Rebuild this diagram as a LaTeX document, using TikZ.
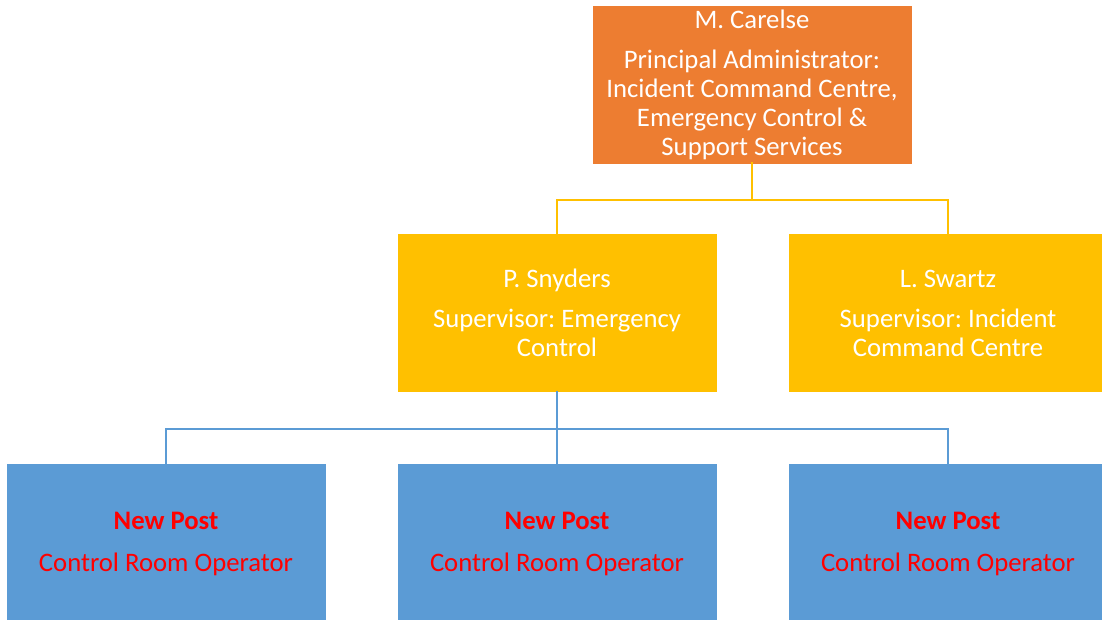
\documentclass[tikz,border=0pt]{standalone}
\usepackage{fontspec}
\setmainfont{Carlito}
\frenchspacing
\definecolor{orangeb}{HTML}{ED7D31}
\definecolor{yellowb}{HTML}{FFC000}
\definecolor{blueb}{HTML}{5B9BD5}
\definecolor{redt}{HTML}{FF0000}
\tikzset{
  box/.style={draw=white, line width=0.8pt, minimum width=320pt, minimum height=159pt, inner sep=0pt, align=center, font=\fontsize{26.7}{29}\selectfont},
  topbox/.style={box, fill=orangeb, text=white},
  midbox/.style={box, fill=yellowb, text=white},
  lowbox/.style={box, fill=blueb, text=redt, minimum height=162pt},
  yline/.style={draw=yellowb, line width=2pt},
  bline/.style={draw=blueb, line width=2pt},
}
\begin{document}
\begin{tikzpicture}[x=1pt,y=-1pt]
\useasboundingbox (0,0) rectangle (1102,619);
\node[topbox] (top) at (752,84.5) {M. Carelse\\[11pt]Principal Administrator:\\Incident Command Centre,\\Emergency Control \&\\Support Services};
\node[midbox] (p) at (557,313) {P. Snyders\\[11pt]Supervisor: Emergency\\Control};
\node[midbox] (l) at (948,313) {L. Swartz\\[11pt]Supervisor: Incident\\Command Centre};
\node[lowbox] (n1) at (166,544) {\textbf{New Post}\\[13pt]Control Room Operator};
\node[lowbox] (n2) at (557,544) {\textbf{New Post}\\[13pt]Control Room Operator};
\node[lowbox] (n3) at (948,544) {\textbf{New Post}\\[13pt]Control Room Operator};
\coordinate (yj) at (752,200);
\coordinate (bj) at (557,429);
\draw[yline] ([yshift=2pt]top.south) -- (yj);
\draw[yline] (yj) -| ([yshift=-2pt]p.north);
\draw[yline] (yj) -| ([yshift=-2pt]l.north);
\draw[bline] ([yshift=2pt]p.south) -- (bj);
\draw[bline] (bj) -| ([yshift=-2pt]n1.north);
\draw[bline] (bj) -| ([yshift=-2pt]n3.north);
\draw[bline] (bj) -- ([yshift=-2pt]n2.north);
\end{tikzpicture}
\end{document}
